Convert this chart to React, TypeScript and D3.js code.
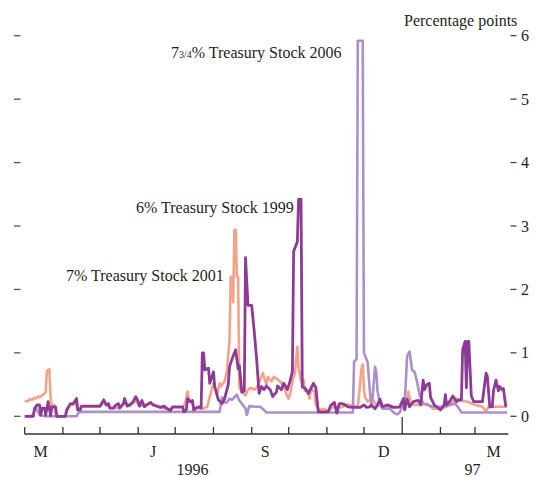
import React from "react";
import * as d3 from "d3";

// Spread over gilts, percentage points, Mar 1996 – Mar 1997.
// Each series: day offsets from 1 March 1996 and the value on that day.
const START = new Date(1996, 2, 1);
const END = new Date(1997, 2, 28);

const stock1999Days = [0, 7, 8, 10, 12, 13, 14, 16, 17, 19, 21, 22, 25, 26, 33, 34, 37, 39, 41, 42, 43, 45, 46, 61, 63, 64, 66, 68, 69, 72, 74, 76, 77, 80, 81, 83, 85, 88, 90, 92, 93, 95, 97, 99, 102, 104, 107, 110, 113, 115, 118, 120, 128, 129, 131, 132, 134, 136, 137, 139, 141, 143, 144, 145, 146, 149, 150, 153, 154, 157, 160, 162, 165, 166, 168, 170, 171, 173, 174, 176, 178, 179, 181, 184, 186, 188, 190, 192, 194, 196, 199, 201, 204, 205, 208, 210, 213, 215, 217, 218, 221, 222, 224, 225, 227, 230, 234, 236, 238, 246, 248, 251, 253, 255, 257, 260, 262, 266, 272, 275, 277, 280, 281, 284, 286, 288, 290, 294, 299, 304, 307, 308, 310, 312, 315, 319, 321, 323, 324, 326, 328, 329, 332, 334, 337, 340, 341, 342, 345, 347, 350, 352, 354, 355, 357, 358, 359, 360, 362, 364, 371, 374, 375, 377, 379, 380, 382, 384, 385, 387, 388, 390];
const stock1999Values = [0, 0, 0.12, 0.18, 0.18, 0.02, 0.13, 0.13, 0.02, 0.23, 0.01, 0.15, 0.15, 0, 0, 0.1, 0.2, 0.19, 0.25, 0.28, 0.1, 0.1, 0.16, 0.16, 0.22, 0.26, 0.18, 0.2, 0.13, 0.13, 0.18, 0.2, 0.13, 0.2, 0.28, 0.16, 0.18, 0.23, 0.31, 0.23, 0.16, 0.25, 0.15, 0.18, 0.22, 0.18, 0.16, 0.14, 0.16, 0.13, 0.09, 0.15, 0.15, 0.07, 0.1, 0.28, 0.23, 0.25, 0.1, 0.13, 0.15, 0.13, 1.0, 1.0, 0.73, 0.76, 0.52, 0.7, 0.47, 0.26, 0.2, 0.28, 0.5, 0.78, 0.9, 1.0, 1.05, 0.75, 0.8, 0.38, 0.4, 2.5, 1.75, 1.75, 1.35, 0.9, 0.36, 0.47, 0.42, 0.48, 0.42, 0.31, 0.38, 0.48, 0.42, 0.52, 0.42, 0.55, 0.7, 2.6, 2.75, 3.42, 3.42, 0.46, 0.45, 0.36, 0.52, 0.45, 0.07, 0.07, 0.17, 0.22, 0.05, 0.2, 0.2, 0.18, 0.15, 0.14, 0.14, 0.18, 0.14, 0.15, 0.18, 0.12, 0.18, 0.27, 0.15, 0.18, 0.14, 0.15, 0.28, 0.1, 0.27, 0.15, 0.23, 0.25, 0.18, 0.57, 0.42, 0.5, 0.52, 0.3, 0.18, 0.15, 0.1, 0.18, 0.34, 0.18, 0.25, 0.32, 0.23, 0.26, 0.26, 1.05, 1.18, 0.45, 1.18, 1.18, 0.32, 0.23, 0.23, 0.68, 0.63, 0.15, 0.15, 0.4, 0.57, 0.4, 0.47, 0.42, 0.44, 0.15];

const stock2006Days = [0, 4, 7, 8, 10, 12, 16, 42, 44, 158, 160, 162, 164, 166, 168, 170, 172, 174, 176, 179, 180, 182, 187, 191, 194, 196, 266, 267, 269, 270, 274, 275, 278, 280, 281, 282, 284, 285, 286, 288, 290, 296, 299, 302, 304, 307, 308, 310, 312, 314, 316, 318, 320, 323, 326, 331, 339, 345, 349, 351, 354, 391];
const stock2006Values = [0, 0, 0.02, 0.13, 0.1, 0.02, 0, 0, 0.07, 0.07, 0.3, 0.22, 0.22, 0.28, 0.26, 0.3, 0.34, 0.25, 0.2, 0.12, 0.02, 0.16, 0.15, 0.15, 0.1, 0.06, 0.06, 0.86, 0.9, 5.92, 5.92, 1.0, 0.85, 0.34, 0.2, 0.3, 0.78, 0.7, 0.4, 0.2, 0.12, 0.12, 0.06, 0.03, 0.06, 0.2, 0.2, 0.95, 1.02, 0.73, 0.7, 0.55, 0.35, 0.2, 0.18, 0.15, 0.15, 0.18, 0.2, 0.15, 0.06, 0.06];

const stock2001Days = [0, 3, 4, 6, 8, 9, 11, 12, 14, 16, 17, 18, 20, 21, 22, 24, 25, 27, 33, 34, 37, 41, 43, 46, 61, 64, 69, 77, 81, 85, 90, 93, 102, 110, 118, 120, 128, 130, 132, 133, 135, 138, 144, 148, 150, 153, 154, 156, 158, 159, 161, 162, 164, 166, 167, 168, 169, 170, 171, 172, 173, 174, 176, 179, 181, 183, 186, 188, 191, 193, 196, 197, 200, 202, 205, 207, 209, 211, 213, 214, 216, 217, 219, 221, 222, 224, 226, 227, 229, 231, 232, 235, 236, 239, 242, 246, 250, 256, 262, 268, 270, 273, 274, 275, 276, 278, 282, 284, 286, 292, 300, 307, 310, 311, 313, 316, 320, 326, 331, 337, 342, 347, 350, 353, 359, 365, 371, 374, 376, 391];
const stock2001Values = [0.24, 0.24, 0.27, 0.26, 0.29, 0.28, 0.31, 0.3, 0.33, 0.36, 0.38, 0.72, 0.74, 0.3, 0.15, 0.18, 0.05, 0, 0, 0.08, 0.18, 0.22, 0.1, 0.15, 0.15, 0.22, 0.13, 0.13, 0.22, 0.16, 0.25, 0.16, 0.2, 0.14, 0.1, 0.14, 0.14, 0.2, 0.39, 0.28, 0.22, 0.13, 0.12, 0.15, 0.31, 0.52, 0.45, 0.36, 0.52, 0.47, 0.52, 0.55, 0.73, 1.2, 2.2, 2.2, 1.8, 2.94, 2.94, 2.2, 2.2, 0.45, 0.38, 0.33, 0.42, 0.45, 0.42, 0.45, 0.58, 0.68, 0.5, 0.62, 0.55, 0.62, 0.58, 0.55, 0.5, 0.42, 0.3, 0.28, 0.42, 0.55, 0.68, 1.1, 0.78, 0.55, 0.58, 0.4, 0.42, 0.28, 0.44, 0.38, 0.18, 0.1, 0.12, 0.08, 0.15, 0.14, 0.18, 0.16, 0.14, 0.75, 0.82, 0.42, 0.3, 0.23, 0.28, 0.2, 0.18, 0.15, 0.14, 0.14, 0.23, 0.39, 0.2, 0.18, 0.18, 0.2, 0.12, 0.12, 0.15, 0.23, 0.28, 0.25, 0.23, 0.18, 0.15, 0.08, 0.15, 0.15];

const yTicks = [0, 1, 2, 3, 4, 5, 6];
const monthLabels = ["M", "J", "S", "D", "M"];
const monthLabelDates = [new Date(1996, 2, 14), new Date(1996, 5, 13), new Date(1996, 8, 12), new Date(1996, 11, 17), new Date(1997, 2, 16)];
const yearLabels = ["1996", "97"];
const yearLabelDates = [new Date(1996, 6, 15), new Date(1997, 1, 27)];

const FONT = "'Liberation Serif', 'Times New Roman', serif";
const TEXT = "#231f20";

export default function App() {
  const width = 536;
  const height = 477;
  const x = d3.scaleTime().domain([START, END]).range([24.7, 508.3]);
  const y = d3.scaleLinear().domain([0, 6]).range([416.3, 35.7]);
  const axisY = 434;

  const build = (days: number[], values: number[]) =>
    days.map((d, i) => ({ date: d3.timeDay.offset(START, d), v: values[i] }));

  const line = d3
    .line<{ date: Date; v: number }>()
    .x((d) => x(d.date))
    .y((d) => y(d.v));

  const series = [
    { key: "2001", data: build(stock2001Days, stock2001Values), color: "#f6a28b", w: 2.6 },
    { key: "2006", data: build(stock2006Days, stock2006Values), color: "#ab90c9", w: 2.6 },
    { key: "1999", data: build(stock1999Days, stock1999Values), color: "#8d3b97", w: 2.8 },
  ];

  const months = d3.timeMonth.range(START, END);

  return (
    <svg
      width={width}
      height={height}
      style={{ position: "absolute", left: 0, top: 0, background: "#fff" }}
      fontFamily={FONT}
    >
      {/* left tick dashes */}
      {yTicks.map((t) => (
        <line key={"l" + t} x1={14} x2={20.5} y1={y(t)} y2={y(t)} stroke="#555" strokeWidth={1.3} />
      ))}
      {/* right axis */}
      {yTicks.map((t) => (
        <g key={"r" + t}>
          <line x1={510.5} x2={516.5} y1={y(t)} y2={y(t)} stroke="#444" strokeWidth={1.3} />
          <text x={521} y={y(t)} dy="0.35em" fontSize={16} fill={TEXT}>
            {t}
          </text>
        </g>
      ))}
      <text x={404} y={26} fontSize={16} fill={TEXT}>
        Percentage points
      </text>

      {series.map((s) => (
        <path
          key={s.key}
          d={line(s.data) || ""}
          fill="none"
          stroke={s.color}
          strokeWidth={s.w}
          strokeLinejoin="round"
          strokeLinecap="butt"
        />
      ))}

      {/* x axis */}
      <line x1={x(START)} x2={x(END)} y1={axisY} y2={axisY} stroke="#333" strokeWidth={1.3} />
      {months.map((m) => {
        const isYear = m.getMonth() === 0;
        return (
          <line
            key={m.toISOString()}
            x1={x(m)}
            x2={x(m)}
            y1={axisY}
            y2={axisY - (isYear ? 17 : 7)}
            stroke="#333"
            strokeWidth={1.3}
          />
        );
      })}
      {monthLabels.map((l, i) => (
        <text key={"m" + i} x={x(monthLabelDates[i])} y={457} fontSize={16} textAnchor="middle" fill={TEXT}>
          {l}
        </text>
      ))}
      {yearLabels.map((l, i) => (
        <text key={"y" + i} x={x(yearLabelDates[i])} y={475} fontSize={16} textAnchor="middle" fill={TEXT}>
          {l}
        </text>
      ))}

      {/* series labels */}
      <text x={171} y={57.5} fontSize={16} fill={TEXT}>
        7<tspan fontSize={10}>3/4</tspan>% Treasury Stock 2006
      </text>
      <text x={136} y={212.5} fontSize={16} fill={TEXT}>
        6% Treasury Stock 1999
      </text>
      <text x={66} y={280.5} fontSize={16} fill={TEXT}>
        7% Treasury Stock 2001
      </text>
    </svg>
  );
}
